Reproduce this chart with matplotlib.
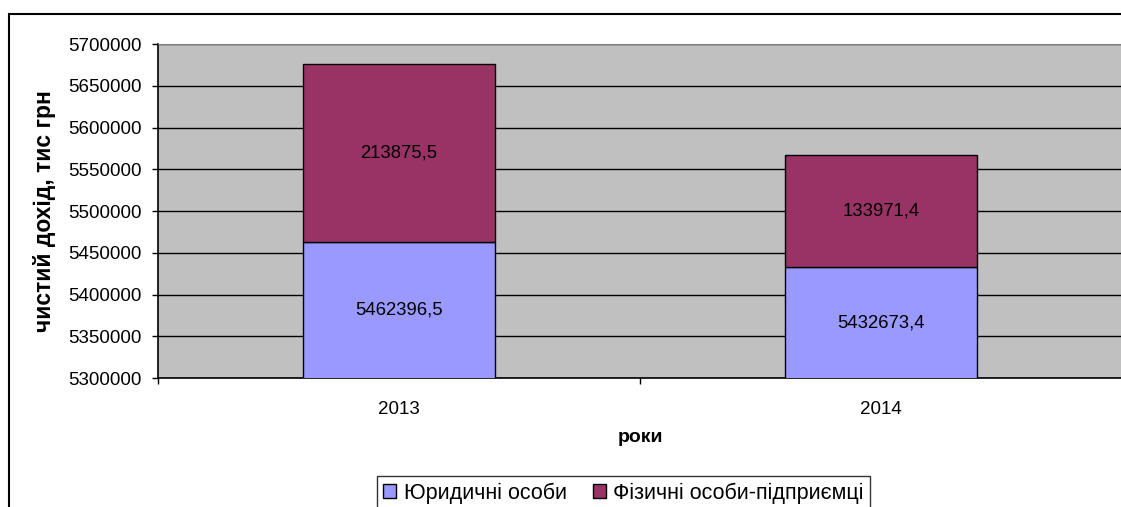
import matplotlib
matplotlib.use("Agg")
import matplotlib.pyplot as plt
from matplotlib.patches import Rectangle

plt.rcParams["font.family"] = ["Liberation Sans", "DejaVu Sans"]

# Data
years = ["2013", "2014"]
legal = [5462396.5, 5432673.4]
individual = [213875.5, 133971.4]
legal_labels = ["5462396,5", "5432673,4"]
individual_labels = ["213875,5", "133971,4"]
y_ticks = [5300000, 5350000, 5400000, 5450000, 5500000, 5550000, 5600000, 5650000, 5700000]

W, H = 1121, 507
fig = plt.figure(figsize=(W / 100, H / 100), dpi=100)
fig.patch.set_facecolor("white")

# outer chart border (cut at right and bottom like the reference)
fig.add_artist(Rectangle((9 / W, -0.1), 1.2, 1 - 14 / H + 0.1, transform=fig.transFigure,
                         fill=False, edgecolor="black", linewidth=1.5))

ax = fig.add_axes([158 / W, 1 - 378 / H, (1122 - 158) / W, (378 - 44) / H])
ax.set_facecolor("#C0C0C0")

x = [0, 1]
ax.bar(x, legal, width=0.4, color="#9999FF", edgecolor="black", linewidth=1, zorder=3)
ax.bar(x, individual, width=0.4, bottom=legal, color="#993366", edgecolor="black",
       linewidth=1, zorder=3)

for i in x:
    ax.text(i, (y_ticks[0] + legal[i]) / 2, legal_labels[i], ha="center", va="center",
            fontsize=13.3, zorder=4)
    ax.text(i, legal[i] + individual[i] / 2, individual_labels[i], ha="center", va="center",
            fontsize=13.3, zorder=4)

ax.set_xlim(-0.5, 1.5)
ax.set_ylim(y_ticks[0], y_ticks[-1])
ax.set_yticks(y_ticks)
ax.set_yticklabels([str(v) for v in y_ticks], fontsize=13.5)
ax.yaxis.grid(True, color="black", linewidth=1, zorder=1)
ax.set_axisbelow(True)

# category ticks between categories, labels centered
ax.set_xticks([-0.5, 0.5, 1.5])
ax.set_xticklabels([])
ax.tick_params(axis="x", length=4.5, width=1, direction="out")
ax.tick_params(axis="y", length=4.5, width=1, direction="out", pad=7)
for i, yr in enumerate(years):
    ax.text(i, -(410 - 378) / (378 - 44), yr, transform=ax.get_xaxis_transform(),
            ha="center", va="center", fontsize=13.5)

for side in ["top", "right"]:
    ax.spines[side].set_color("#808080")
for side in ["left", "bottom"]:
    ax.spines[side].set_color("black")
    ax.spines[side].set_linewidth(1.2)

fig.text(45 / W, 1 - 211 / H, "чистий дохід, тис грн", rotation=90, ha="center",
         va="center", fontsize=16.5, fontweight="bold")
fig.text(640 / W, 1 - 438 / H, "роки", ha="center", va="center", fontsize=14,
         fontweight="bold")

leg = fig.legend(["Юридичні особи", "Фізичні особи-підприємці"], loc="upper left",
                 bbox_to_anchor=(377 / W, 1 - 476 / H), ncol=2, fontsize=15.5,
                 frameon=True, fancybox=False, edgecolor="black", handlelength=0.6,
                 handleheight=0.6, handletextpad=0.35, columnspacing=1.2,
                 borderpad=0.3, borderaxespad=0)
leg.get_frame().set_linewidth(1)

fig.savefig("out.png", dpi=100)
